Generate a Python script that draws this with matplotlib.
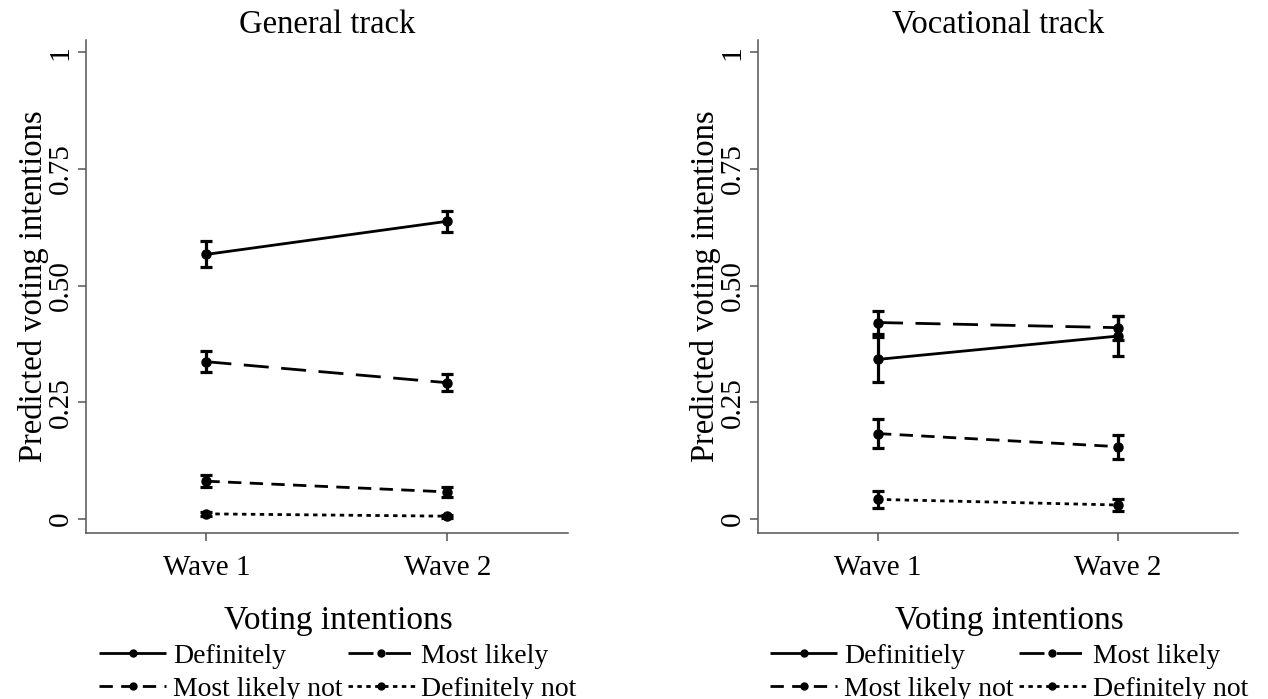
import numpy as np
import matplotlib.pyplot as plt
from matplotlib.lines import Line2D

plt.rcParams['font.family'] = ['Liberation Serif', 'DejaVu Serif']

# Data
waves = ["Wave 1", "Wave 2"]
x_pos = [1, 2]

# General track: predicted values and half-width of the confidence interval
gen_definitely = [0.567, 0.638]
gen_definitely_err = [0.028, 0.022]
gen_most_likely = [0.337, 0.292]
gen_most_likely_err = [0.022, 0.018]
gen_most_likely_not = [0.081, 0.058]
gen_most_likely_not_err = [0.013, 0.011]
gen_definitely_not = [0.011, 0.006]
gen_definitely_not_err = [0.004, 0.003]

# Vocational track
voc_definitely = [0.342, 0.392]
voc_definitely_err = [0.049, 0.042]
voc_most_likely = [0.421, 0.410]
voc_most_likely_err = [0.025, 0.026]
voc_most_likely_not = [0.183, 0.155]
voc_most_likely_not_err = [0.031, 0.026]
voc_definitely_not = [0.042, 0.030]
voc_definitely_not_err = [0.018, 0.012]

yticks = [0, 0.25, 0.5, 0.75, 1]
ytick_labels = ["0", "0.25", "0.50", "0.75", "1"]

# line styles for each category (units of linewidth)
styles = [
    (0, ()),              # solid
    (0, (9, 4.5)),        # long dash
    (0, (4.8, 3)),        # medium dash
    (0, (1.6, 1.6)),      # dotted
]
LW = 2.0


def draw_panel(ax, title, series, labels):
    for (vals, errs), ls in zip(series, styles):
        ax.errorbar(x_pos, vals, yerr=errs, color="black", linestyle=ls,
                    linewidth=LW, marker="o", markersize=6.5,
                    capsize=4.5, capthick=2.3, elinewidth=2.3)
    ax.set_xlim(0.5, 2.5)
    ax.set_ylim(-0.03, 1.026)
    ax.set_xticks(x_pos)
    ax.set_xticklabels(waves)
    ax.set_yticks(yticks)
    ax.set_yticklabels(ytick_labels, rotation=90, va="center")
    for s in ["top", "right"]:
        ax.spines[s].set_visible(False)
    for s in ["left", "bottom"]:
        ax.spines[s].set_color("#555555")
        ax.spines[s].set_linewidth(1.1)
    ax.tick_params(colors="#555555", labelcolor="black", length=5.8,
                   width=1.1, labelsize=21)
    ax.tick_params(axis="y", pad=3)
    ax.tick_params(axis="x", pad=10)
    ax.set_ylabel("Predicted voting intentions", fontsize=23.5, labelpad=-1)
    ax.set_title(title, fontsize=23.5, pad=4)

    # legend, filled row by row like the original
    handles = [Line2D([], [], color="black", linestyle=ls, linewidth=LW,
                      marker="o", markersize=5) for ls in styles]
    order = [0, 2, 1, 3]
    ax.legend([handles[i] for i in order], [labels[i] for i in order],
              loc="upper center", bbox_to_anchor=(0.523, -0.118), ncol=2,
              frameon=False, fontsize=20, title="Voting intentions",
              title_fontsize=24, handlelength=2.4, handletextpad=0.25,
              columnspacing=0.2, labelspacing=0.28, borderpad=0)


fig = plt.figure(figsize=(12.68, 6.99), dpi=100)
ax1 = fig.add_axes([0.0678, 0.2375, 0.380, 0.705])
ax2 = fig.add_axes([0.5978, 0.2375, 0.3785, 0.705])

draw_panel(ax1, "General track",
           [(gen_definitely, gen_definitely_err),
            (gen_most_likely, gen_most_likely_err),
            (gen_most_likely_not, gen_most_likely_not_err),
            (gen_definitely_not, gen_definitely_not_err)],
           ["Definitely", "Most likely", "Most likely not", "Definitely not"])

draw_panel(ax2, "Vocational track",
           [(voc_definitely, voc_definitely_err),
            (voc_most_likely, voc_most_likely_err),
            (voc_most_likely_not, voc_most_likely_not_err),
            (voc_definitely_not, voc_definitely_not_err)],
           ["Definitiely", "Most likely", "Most likely not", "Definitely not"])

fig.savefig("out.png", dpi=100)
